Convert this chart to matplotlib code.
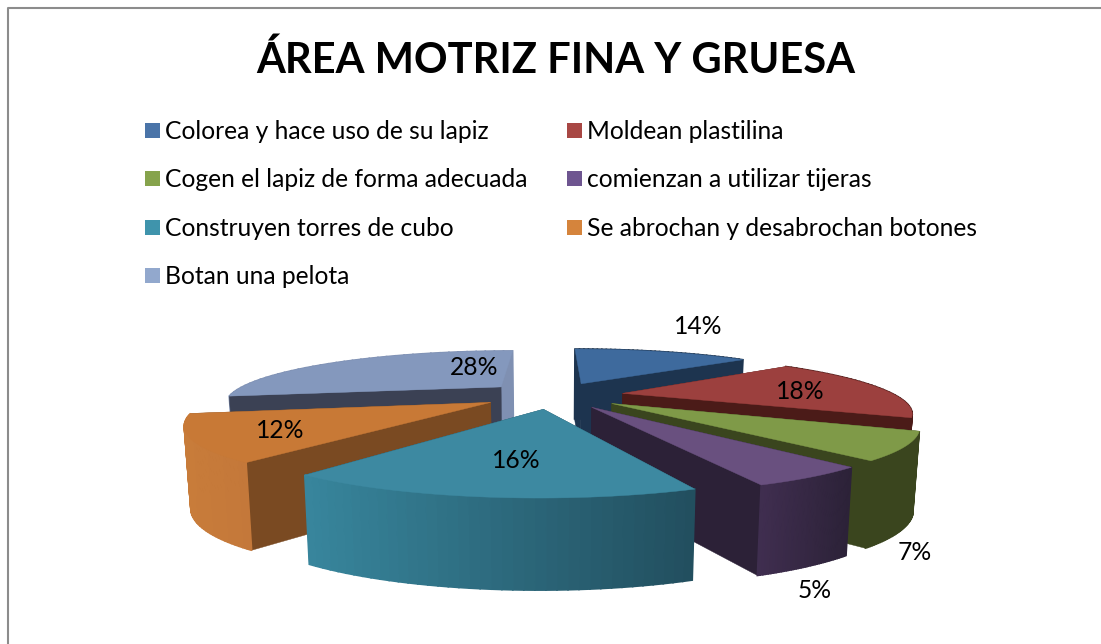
import numpy as np
import matplotlib
matplotlib.use('Agg')
import matplotlib.pyplot as plt
from matplotlib.colors import to_rgb
from matplotlib.patches import Polygon, Rectangle

title = 'ÁREA MOTRIZ FINA Y GRUESA'
categories = ['Colorea y hace uso de su lapiz', 'Moldean plastilina',
              'Cogen el lapiz de forma adecuada', 'comienzan a utilizar tijeras',
              'Construyen torres de cubo', 'Se abrochan y desabrochan botones',
              'Botan una pelota']
values = [14, 18, 7, 5, 16, 12, 28]

legend_colors = ['#4a74a8', '#a84744', '#86a34c', '#6e5590', '#3f94ac', '#d5843c', '#92a8cd']
top_colors = ['#3e6a9d', '#9c403e', '#7f9a48', '#69507f', '#3d89a1', '#c87936', '#8498bd']
wall_colors = ['#1d344f', '#4b1b18', '#3a451e', '#2c2137', '#224f5f', '#7a4a22', '#3b4154']
end_wall_colors = ['#1d344f', '#4b1b18', '#3a451e', '#2c2137', '#224f5f', '#7a4a22', '#7f90b2']
side_left = ['#1d344f', '#4b1b18', '#3a451e', '#402e50', '#38869d', '#c87c3a', '#7f90b2']
side_right = ['#1d344f', '#4b1b18', '#3a451e', '#2c2238', '#224f5f', '#c4783a', '#7f90b2']

# pie geometry, in pixels
cx, cy = 553, 395
rx, ry = 272, 51
persp = 0.30
explode = 0.26
height = 78


def project(x, y, z=0.0):
    # z = 0 is the top face, z = 1 the bottom one
    x, y = np.asarray(x, float), np.asarray(y, float)
    s = 1 / (1 + persp * y)
    shrink = 1 - 0.018 * z
    return cx + rx * x * s * shrink, cy - ry * y * s + z * height * s ** 0.35


def mix(c1, c2, t):
    a, b = np.array(to_rgb(c1)), np.array(to_rgb(c2))
    return tuple(a + (b - a) * t)


def draw_slice(ax, start, end, i):
    mid = (start + end) / 2
    ox, oy = explode * np.cos(mid), explode * np.sin(mid)
    t = np.linspace(start, end, 40)
    arc_x, arc_y = ox + np.cos(t), oy + np.sin(t)

    faces = []
    # the two radial walls
    for a, col in ((start, wall_colors[i]), (end, end_wall_colors[i])):
        ex, ey = ox + np.cos(a), oy + np.sin(a)
        xs = np.array([ox, ex, ex, ox])
        ys = np.array([oy, ey, ey, oy])
        zs = np.array([0, 0, 1, 1])
        faces.append((ys.mean(), 'wall', xs, ys, zs, col))
    faces.append((arc_y.mean(), 'arc', None, None, None, None))

    for _, kind, xs, ys, zs, col in sorted(faces, key=lambda f: -f[0]):
        if kind == 'wall':
            px, py = project(xs, ys, zs)
            ax.add_patch(Polygon(np.c_[px, py], closed=True, fc=col, ec=col, lw=0.3))
        else:
            tx, ty = project(arc_x, arc_y, 0)
            bx, by = project(arc_x, arc_y, 1)
            lo, hi = tx.min(), tx.max()
            for k in range(len(t) - 1):
                c = mix(side_left[i], side_right[i], (tx[k] - lo) / (hi - lo))
                quad = [(tx[k], ty[k]), (tx[k + 1], ty[k + 1]), (bx[k + 1], by[k + 1]), (bx[k], by[k])]
                ax.add_patch(Polygon(quad, closed=True, fc=c, ec=c, lw=1.2))

    # top face
    px, py = project(np.r_[ox, arc_x], np.r_[oy, arc_y], 0)
    ax.add_patch(Polygon(np.c_[px, py], closed=True, fc=top_colors[i], ec=top_colors[i], lw=0.3))


plt.rcParams['font.family'] = ['Lato', 'DejaVu Sans']

fig = plt.figure(figsize=(11.01, 6.44), dpi=100)
ax = fig.add_axes([0, 0, 1, 1])
ax.set_xlim(0, 1101)
ax.set_ylim(644, 0)
ax.axis('off')

# chart frame, cut off at right and bottom
ax.plot([8, 8, 1101], [644, 8, 8], color='#8c8c8c', lw=1.5)

ax.text(556, 60, title, fontsize=30, fontweight='bold', ha='center', va='center', color='black')

# legend
legend_x = [145, 567]
legend_y = [131, 179, 228, 276]
for i, name in enumerate(categories):
    x = legend_x[i % 2]
    y = legend_y[i // 2]
    ax.add_patch(Rectangle((x, y - 8), 15, 15, fc=legend_colors[i], ec='none'))
    ax.text(x + 20, y, name, fontsize=17.7, ha='left', va='center', color='black')

# slices go clockwise from 12 o'clock
edges = np.pi / 2 - 2 * np.pi * np.r_[0, np.cumsum(values)] / np.sum(values)
for i in [6, 0, 1, 2, 3, 5, 4]:
    draw_slice(ax, edges[i], edges[i + 1], i)

# percent labels
label_xy = [(698, 326), (800, 391), (915, 552), (815, 590), (516, 460), (280, 430), (474, 367)]
for v, (x, y) in zip(values, label_xy):
    ax.text(x, y, f'{v}%', fontsize=17.7, ha='center', va='center', color='black')

fig.savefig('out.png', dpi=100)
